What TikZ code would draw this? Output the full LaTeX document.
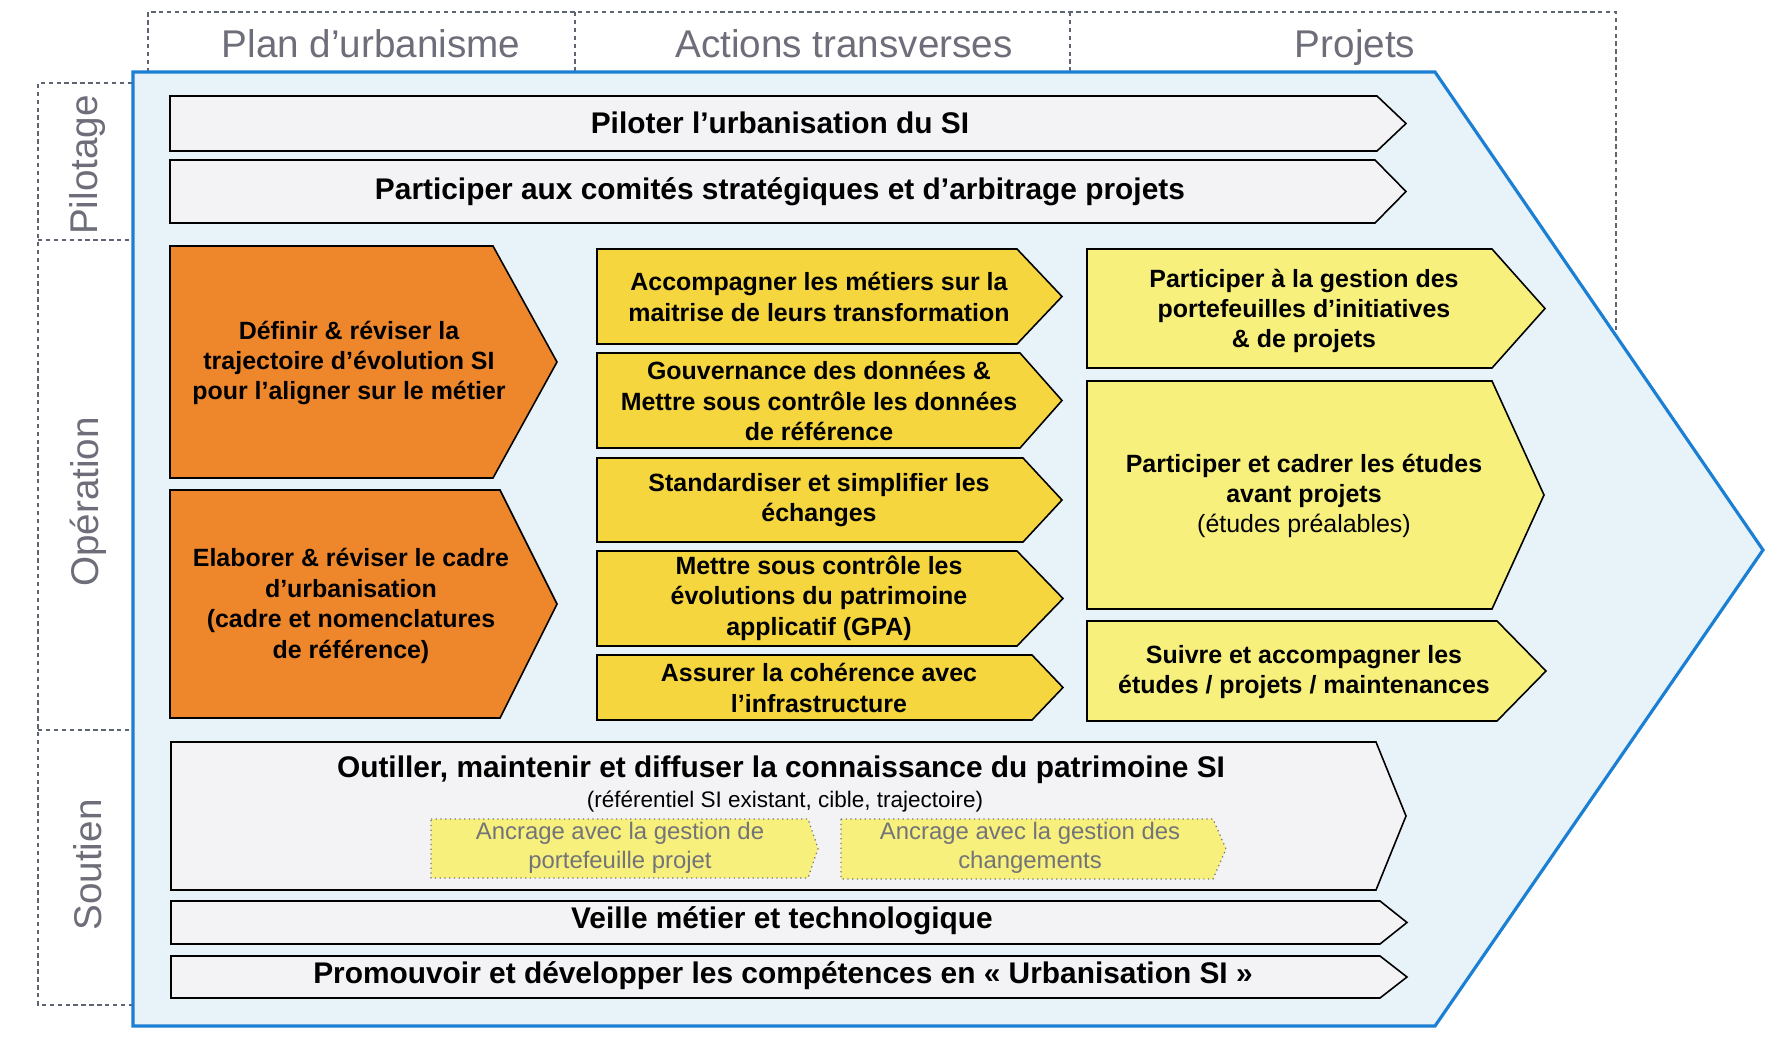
\documentclass[tikz,border=0pt]{standalone}
\usepackage{fontspec}
\setmainfont{Liberation Sans}
\definecolor{bluefill}{RGB}{231,243,248}
\definecolor{blueline}{RGB}{27,127,212}
\definecolor{orangef}{RGB}{238,134,44}
\definecolor{goldf}{RGB}{245,214,62}
\definecolor{lightyel}{RGB}{247,240,125}
\definecolor{barfill}{RGB}{243,243,246}
\definecolor{headgray}{RGB}{110,110,122}
\definecolor{dashgray}{RGB}{95,100,115}
\definecolor{ancgray}{RGB}{115,115,122}
\newcommand\chev[6]{\draw[#1] (#2,#3) -- (#4,#3) -- (#5,{(#3+#6)/2}) -- (#4,#6) -- (#2,#6) -- cycle;}
\begin{document}
\begin{tikzpicture}[x=0.02cm,y=-0.02cm,
  frame/.style={draw=dashgray,line width=0.6pt,dash pattern=on 2.5pt off 2pt},
  headtxt/.style={text=headgray,font=\fontsize{22}{26}\selectfont,inner sep=0pt},
  bigshape/.style={draw=blueline,line width=1.8pt,fill=bluefill,line join=miter},
  barshape/.style={draw=black,line width=0.9pt,fill=barfill},
  orshape/.style={draw=black,line width=0.9pt,fill=orangef},
  goldshape/.style={draw=black,line width=0.9pt,fill=goldf},
  yelshape/.style={draw=black,line width=0.9pt,fill=lightyel},
  ancshape/.style={draw=ancgray,line width=0.7pt,dotted,fill=lightyel},
  bartxt/.style={font=\bfseries\fontsize{17}{20}\selectfont,inner sep=0pt},
  boxtxt/.style={font=\bfseries\fontsize{14.2}{17.3}\selectfont,align=center,inner sep=0pt},
  subtxt/.style={font=\fontsize{12.8}{15}\selectfont,inner sep=0pt},
  anctxt/.style={font=\fontsize{13.6}{16.5}\selectfont,text=ancgray,align=center,inner sep=0pt}]
\path[use as bounding box,fill=white] (0,0) rectangle (1789,1038);
% header frame
\draw[frame] (148,80) -- (148,12) -- (1616,12) -- (1616,400);
\draw[frame] (575,12) -- (575,80);
\draw[frame] (1070,12) -- (1070,80);
% left frame
\draw[frame] (140,83) -- (38,83) -- (38,1005) -- (140,1005);
\draw[frame] (38,240) -- (140,240);
\draw[frame] (38,730) -- (140,730);
\node[headtxt,anchor=base] (hplan) at (371,57) {Plan d’urbanisme};
\node[headtxt,anchor=base] (hact) at (844,57) {Actions transverses};
\node[headtxt,anchor=base] (hproj) at (1355,57) {Projets};
\node[headtxt,rotate=90] (lpil) at (88,165) {Pilotage};
\node[headtxt,rotate=90] (lop) at (88,502) {Opération};
\node[headtxt,rotate=90] (lsou) at (88,865) {Soutien};
% big chevron
\draw[bigshape] (133,72) -- (1435,72) -- (1763,550) -- (1435,1026) -- (133,1026) -- cycle;
% pilotage bars
\chev{barshape}{170}{96}{1377}{1406}{151}
\node[bartxt] (piloter) at (780,123) {Piloter l’urbanisation du SI};
\chev{barshape}{170}{160}{1375}{1406}{223}
\node[bartxt] (comites) at (780,192) {Participer aux comités stratégiques et d’arbitrage projets};
% orange
\chev{orshape}{170}{246}{493}{557}{478}
\node[boxtxt] (def) at (349,363) {Définir \& réviser la\\trajectoire d’évolution SI\\pour l’aligner sur le métier};
\chev{orshape}{170}{490}{500}{557}{718}
\node[boxtxt] (elab) at (351,606) {Elaborer \& réviser le cadre\\d’urbanisation\\(cadre et nomenclatures\\de référence)};
% middle
\chev{goldshape}{597}{249}{1017}{1062}{344}
\node[boxtxt] (acc) at (819,297) {Accompagner les métiers sur la\\maitrise de leurs transformation};
\chev{goldshape}{597}{353}{1020}{1062}{448}
\node[boxtxt] (gouv) at (819,401) {Gouvernance des données \&\\Mettre sous contrôle les données\\de référence};
\chev{goldshape}{597}{458}{1023}{1062}{542}
\node[boxtxt] (std) at (819,500) {Standardiser et simplifier les\\échanges};
\chev{goldshape}{597}{551}{1017}{1063}{646}
\node[boxtxt] (gpa) at (819,598) {Mettre sous contrôle les\\évolutions du patrimoine\\applicatif (GPA)};
\chev{goldshape}{597}{655}{1032}{1063}{720}
\node[boxtxt] (infra) at (819,688) {Assurer la cohérence avec\\l’infrastructure};
% right
\chev{yelshape}{1087}{249}{1492}{1545}{368}
\node[boxtxt] (port) at (1304,311) {Participer à la gestion des\\portefeuilles d’initiatives\\\& de projets};
\chev{yelshape}{1087}{381}{1492}{1544}{609}
\node[boxtxt] (etud) at (1304,496) {Participer et cadrer les études\\avant projets\\{\mdseries (études préalables)}};
\chev{yelshape}{1087}{621}{1497}{1546}{721}
\node[boxtxt] (suiv) at (1304,672) {Suivre et accompagner les\\études / projets / maintenances};
% soutien
\chev{barshape}{171}{742}{1376}{1406}{890}
\node[bartxt] (outil) at (781,770) {Outiller, maintenir et diffuser la connaissance du patrimoine SI};
\node[subtxt] (refsi) at (785,802) {(référentiel SI existant, cible, trajectoire)};
\chev{ancshape}{431}{819}{808}{818}{878}
\node[anctxt] (anc1) at (620,848) {Ancrage avec la gestion de\\portefeuille projet};
\chev{ancshape}{841}{819}{1213}{1226}{879}
\node[anctxt] (anc2) at (1030,848) {Ancrage avec la gestion des\\changements};
\chev{barshape}{171}{901}{1380}{1407}{944}
\node[bartxt] (veille) at (782,921) {Veille métier et technologique};
\chev{barshape}{171}{956}{1380}{1407}{998}
\node[bartxt] (promo) at (783,976) {Promouvoir et développer les compétences en « Urbanisation SI »};
\end{tikzpicture}
\end{document}
